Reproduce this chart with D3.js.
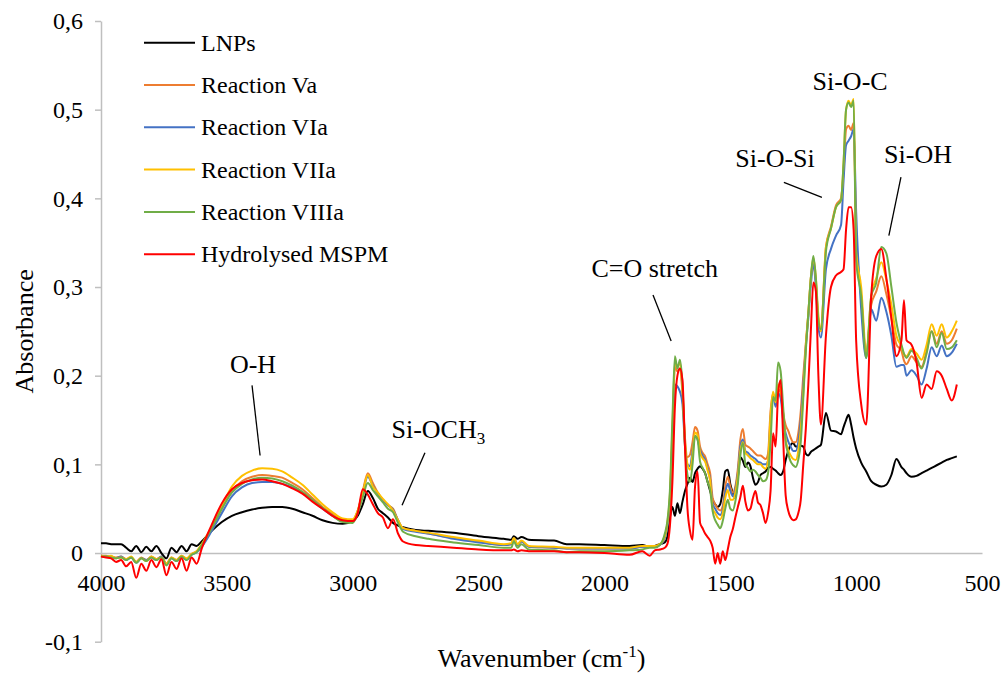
<!DOCTYPE html>
<html>
<head>
<meta charset="utf-8">
<script src="https://cdn.jsdelivr.net/npm/d3@7"></script>
<style>
  body { margin: 0; background: #fff; }
  .axis path, .axis line { stroke: #bfbfbf; stroke-width: 1.5; }
  .pointer { stroke: #000; stroke-width: 1.3; }
  .line { fill: none; stroke-width: 2; stroke-linejoin: round; }
</style>
</head>
<body>
<div id="plot"></div>
<script>
// shared wavenumber grid (cm-1)
const wavenumbers = [
  4000,3980,3960,3940,3920,3900,3880,3860,3840,3820,3800,3780,3760,3740,3720,3700,3680,3660,3640,3620,3600,
  3560,3520,3480,3440,3400,3360,3320,3280,3240,3200,3160,3120,3080,3040,3000,
  2980,2960,2940,2920,2900,2880,2860,2840,2820,2800,
  2750,2700,2600,2500,2400,2370,2360,2345,2330,2300,2200,2150,2100,2000,1900,1850,1820,
  1800,1780,1760,
  1750,1740,1730,1720,1710,1700,1690,1680,1670,1660,
  1650,1640,1630,1620,1610,1600,1590,1580,1570,1560,
  1550,1540,1530,1520,1510,1500,1490,1480,1470,1460,
  1450,1440,1430,1420,1410,1400,1390,1380,1370,1360,
  1350,1340,1330,1320,1310,1300,1290,1280,1270,1260,
  1250,1240,1230,1220,1210,1200,1190,1180,1170,1160,
  1150,1140,
  1120,1100,1080,1060,1050,1040,1030,1020,1010,1000,
  980,960,940,920,900,880,860,840,820,810,
  800,780,760,740,720,700,680,660,640,620,
  600
]

const lnps = [
  0.011,0.011,0.010,0.010,0.010,0.006,0.002,0.008,0.001,0.007,0.002,0.008,0.000,-0.006,0.006,0.001,0.008,0.002,0.010,0.008,0.013,
  0.025,0.035,0.042,0.046,0.049,0.051,0.052,0.052,0.050,0.046,0.042,0.037,0.034,0.033,0.036,
  0.042,0.055,0.070,0.062,0.050,0.045,0.040,0.034,0.031,0.029,
  0.026,0.025,0.023,0.019,0.016,0.015,0.019,0.016,0.018,0.015,0.014,0.010,0.010,0.009,0.008,0.009,0.007,
  0.008,0.010,0.012,
  0.018,0.040,0.052,0.042,0.056,0.045,0.058,0.070,0.078,0.085,
  0.080,0.090,0.095,0.098,0.095,0.090,0.080,0.070,0.060,0.055,
  0.052,0.055,0.070,0.092,0.094,0.078,0.068,0.062,0.085,0.108,
  0.104,0.097,0.102,0.098,0.085,0.077,0.080,0.088,0.090,0.092,
  0.096,0.097,0.095,0.093,0.090,0.088,0.092,0.105,0.115,0.122,
  0.124,0.120,0.120,0.121,0.120,0.112,0.110,0.114,0.116,0.118,
  0.120,0.122,
  0.158,0.138,0.137,0.134,0.142,0.150,0.156,0.145,0.130,0.118,
  0.102,0.092,0.081,0.077,0.075,0.077,0.088,0.106,0.097,0.094,
  0.090,0.086,0.087,0.090,0.093,0.096,0.099,0.102,0.105,0.107,
  0.109
]

const reactionVa = [
  -0.003,-0.003,-0.004,-0.005,-0.004,-0.007,-0.005,-0.010,-0.005,-0.008,-0.004,-0.007,-0.004,-0.012,-0.005,-0.008,-0.003,-0.007,-0.001,0.002,0.009,
  0.029,0.050,0.070,0.081,0.086,0.088,0.087,0.085,0.079,0.072,0.062,0.052,0.044,0.037,0.037,
  0.048,0.070,0.090,0.079,0.068,0.060,0.054,0.050,0.037,0.028,
  0.025,0.022,0.017,0.013,0.009,0.010,0.016,0.009,0.013,0.007,0.006,0.005,0.005,0.005,0.005,0.007,0.007,
  0.007,0.009,0.018,
  0.032,0.060,0.130,0.210,0.205,0.208,0.180,0.130,0.108,0.111,
  0.125,0.142,0.138,0.120,0.113,0.109,0.100,0.090,0.062,0.055,
  0.050,0.048,0.053,0.075,0.086,0.075,0.068,0.075,0.095,0.128,
  0.140,0.122,0.120,0.118,0.115,0.112,0.110,0.110,0.108,0.106,
  0.112,0.160,0.180,0.168,0.185,0.180,0.158,0.144,0.138,0.130,
  0.125,0.125,0.135,0.160,0.200,0.236,0.270,0.310,0.330,0.305,
  0.262,0.250,
  0.345,0.368,0.392,0.400,0.430,0.478,0.482,0.477,0.485,0.360,
  0.290,0.225,0.280,0.295,0.312,0.292,0.265,0.235,0.228,0.217,
  0.213,0.222,0.215,0.210,0.228,0.250,0.236,0.250,0.236,0.240,
  0.253
]

const reactionVIa = [
  -0.003,-0.004,-0.004,-0.006,-0.004,-0.008,-0.005,-0.011,-0.006,-0.008,-0.005,-0.008,-0.004,-0.013,-0.006,-0.009,-0.004,-0.008,-0.002,0.001,0.007,
  0.025,0.045,0.064,0.074,0.079,0.080,0.080,0.078,0.074,0.068,0.059,0.050,0.042,0.036,0.036,
  0.047,0.068,0.086,0.076,0.067,0.060,0.054,0.049,0.037,0.027,
  0.024,0.022,0.016,0.012,0.009,0.010,0.016,0.009,0.013,0.007,0.006,0.005,0.005,0.005,0.005,0.007,0.007,
  0.007,0.009,0.017,
  0.030,0.058,0.120,0.190,0.188,0.182,0.168,0.122,0.100,0.098,
  0.115,0.132,0.128,0.116,0.110,0.105,0.095,0.083,0.055,0.050,
  0.045,0.043,0.049,0.068,0.078,0.070,0.064,0.072,0.090,0.120,
  0.128,0.115,0.113,0.110,0.108,0.106,0.103,0.102,0.100,0.100,
  0.104,0.150,0.178,0.165,0.180,0.175,0.150,0.135,0.126,0.120,
  0.115,0.115,0.125,0.150,0.190,0.232,0.265,0.302,0.326,0.300,
  0.255,0.243,
  0.320,0.343,0.358,0.370,0.420,0.460,0.465,0.470,0.478,0.385,
  0.275,0.220,0.275,0.262,0.288,0.272,0.245,0.210,0.212,0.212,
  0.200,0.206,0.200,0.190,0.208,0.232,0.222,0.234,0.222,0.226,
  0.236
]

const reactionVIIa = [
  -0.003,-0.004,-0.003,-0.006,-0.005,-0.007,-0.004,-0.010,-0.006,-0.009,-0.004,-0.007,-0.005,-0.012,-0.005,-0.008,-0.003,-0.006,-0.001,0.002,0.010,
  0.030,0.053,0.075,0.087,0.093,0.0955,0.095,0.092,0.085,0.077,0.066,0.055,0.046,0.039,0.038,
  0.048,0.068,0.088,0.075,0.068,0.061,0.055,0.048,0.037,0.028,
  0.025,0.023,0.018,0.014,0.010,0.011,0.017,0.010,0.014,0.008,0.007,0.006,0.006,0.006,0.006,0.008,0.008,
  0.008,0.010,0.019,
  0.034,0.065,0.140,0.215,0.210,0.215,0.185,0.125,0.100,0.094,
  0.110,0.136,0.133,0.113,0.107,0.103,0.093,0.081,0.050,0.045,
  0.040,0.038,0.045,0.062,0.071,0.060,0.060,0.068,0.087,0.115,
  0.125,0.113,0.110,0.107,0.105,0.102,0.100,0.100,0.097,0.095,
  0.105,0.155,0.182,0.170,0.190,0.185,0.158,0.128,0.116,0.110,
  0.106,0.105,0.115,0.140,0.180,0.234,0.270,0.310,0.333,0.310,
  0.268,0.250,
  0.345,0.366,0.390,0.398,0.440,0.500,0.510,0.505,0.512,0.340,
  0.300,0.227,0.290,0.310,0.328,0.308,0.280,0.245,0.233,0.224,
  0.222,0.230,0.225,0.218,0.235,0.258,0.245,0.258,0.243,0.250,
  0.262
]

const reactionVIIIa = [
  -0.004,-0.004,-0.005,-0.006,-0.005,-0.008,-0.005,-0.011,-0.006,-0.009,-0.005,-0.008,-0.005,-0.014,-0.006,-0.009,-0.004,-0.008,-0.002,0.001,0.009,
  0.028,0.050,0.068,0.078,0.083,0.085,0.084,0.081,0.076,0.069,0.060,0.051,0.042,0.035,0.034,
  0.045,0.063,0.079,0.071,0.064,0.057,0.050,0.046,0.034,0.024,
  0.019,0.016,0.012,0.009,0.006,0.006,0.013,0.006,0.010,0.004,0.003,0.001,0.002,0.002,0.003,0.004,0.006,
  0.006,0.009,0.022,
  0.036,0.070,0.150,0.222,0.208,0.218,0.190,0.120,0.088,0.080,
  0.100,0.132,0.128,0.103,0.096,0.090,0.080,0.071,0.047,0.037,
  0.032,0.028,0.036,0.050,0.060,0.050,0.048,0.058,0.078,0.110,
  0.124,0.100,0.096,0.092,0.094,0.092,0.088,0.085,0.081,0.082,
  0.090,0.125,0.176,0.172,0.215,0.205,0.165,0.125,0.112,0.103,
  0.099,0.097,0.105,0.125,0.175,0.228,0.270,0.310,0.335,0.310,
  0.262,0.252,
  0.340,0.366,0.390,0.398,0.440,0.500,0.508,0.503,0.510,0.330,
  0.290,0.220,0.290,0.305,0.345,0.338,0.300,0.260,0.235,0.225,
  0.220,0.228,0.220,0.208,0.225,0.250,0.232,0.248,0.230,0.232,
  0.240
]

const hydrolysedMSPM = [
  -0.004,-0.005,-0.006,-0.010,-0.008,-0.015,-0.010,-0.028,-0.012,-0.020,-0.008,-0.016,-0.007,-0.025,-0.010,-0.018,-0.006,-0.020,-0.005,-0.012,0.005,
  0.032,0.056,0.072,0.079,0.082,0.083,0.081,0.078,0.073,0.067,0.058,0.050,0.042,0.037,0.036,
  0.045,0.072,0.066,0.055,0.045,0.040,0.028,0.038,0.022,0.013,
  0.009,0.008,0.006,0.004,0.003,0.003,0.004,0.002,0.003,0.002,0.002,0.001,0.001,0.000,-0.002,0.002,-0.003,
  0.003,0.004,0.006,
  0.010,0.030,0.080,0.165,0.200,0.208,0.195,0.120,0.050,0.025,
  0.015,0.075,0.092,0.034,0.028,0.022,0.018,0.014,0.006,-0.012,
  0.000,-0.012,0.002,-0.008,0.004,0.018,0.027,0.040,0.052,0.063,
  0.076,0.058,0.048,0.050,0.062,0.070,0.057,0.054,0.045,0.034,
  0.045,0.070,0.135,0.120,0.180,0.195,0.130,0.065,0.048,0.040,
  0.037,0.038,0.045,0.060,0.100,0.140,0.190,0.250,0.305,0.295,
  0.200,0.145,
  0.245,0.300,0.313,0.317,0.320,0.365,0.390,0.390,0.365,0.240,
  0.168,0.145,0.290,0.335,0.343,0.310,0.265,0.222,0.240,0.285,
  0.240,0.235,0.215,0.175,0.190,0.185,0.205,0.200,0.185,0.172,
  0.190
]

const seriesNames = ["LNPs", "Reaction Va", "Reaction VIa", "Reaction VIIa", "Reaction VIIIa", "Hydrolysed MSPM"]
const seriesValues = [lnps, reactionVa, reactionVIa, reactionVIIa, reactionVIIIa, hydrolysedMSPM]
const colors = ["#000000", "#ED7D31", "#4472C4", "#FFC000", "#70AD47", "#FF0000"]

const xTicks = [4000, 3500, 3000, 2500, 2000, 1500, 1000, 500]
const yTicks = [-0.1, 0, 0.1, 0.2, 0.3, 0.4, 0.5, 0.6]

// peak labels: text anchor point and pointer line, in wavenumber / absorbance
const notes = [
  {text: "O-H", at: [3396, 0.203], from: [3400, 0.189], to: [3368, 0.110]},
  {text: "Si-OCH", sub: "3", at: [2846, 0.130], anchor: "start", from: [2713, 0.113], to: [2804, 0.054]},
  {text: "C=O stretch", at: [1800, 0.311], from: [1807, 0.291], to: [1735, 0.239]},
  {text: "Si-O-Si", at: [1322, 0.435], from: [1287, 0.418], to: [1136, 0.401]},
  {text: "Si-O-C", at: [1024, 0.522]},
  {text: "Si-OH", at: [754, 0.440], from: [822, 0.424], to: [870, 0.358]}
]

const serif = '"Liberation Serif", Tinos, "Times New Roman", "DejaVu Serif", serif'

const w = 1004,
    h = 679,
    x = d3.scaleLinear()
      .domain([4000, 500])
      .range([101, 982]),
    y = d3.scaleLinear()
      .domain([-0.1, 0.6])
      .range([641.7, 21])

const fmt = (d) => d === 0 ? "0" : d3.format(".1f")(d).replace(".", ",").replace("\u2212", "-")

const svg = d3.select("#plot").append("svg")
  .attr("width", w)
  .attr("height", h)

svg.append("rect")
  .attr("width", w)
  .attr("height", h)
  .attr("fill", "#fff")

svg.append("g")
  .attr("class", "axis")
  .attr("transform", `translate(${x(4000)}, 0)`)
  .call(d3.axisLeft(y)
    .tickValues(yTicks)
    .tickFormat(fmt)
    .tickSize(6)
    .tickSizeOuter(0)
    .tickPadding(12))

svg.append("g")
  .attr("class", "axis")
  .attr("transform", `translate(0, ${y(0)})`)
  .call(d3.axisBottom(x)
    .tickValues(xTicks)
    .tickFormat(d3.format("d"))
    .tickSize(0)
    .tickSizeOuter(0)
    .tickPadding(21))

svg.selectAll(".axis text")
  .style("font-size", "24px")
  .attr("fill", "#000")

const line = d3.line()
  .x((d, i) => x(wavenumbers[i]))
  .y((d) => y(d))
  .curve(d3.curveMonotoneX)

seriesValues.forEach((vals, k) => {
  if (vals.length !== wavenumbers.length) console.error(seriesNames[k], vals.length)
  svg.append("path")
    .datum(vals)
    .attr("class", "line")
    .attr("stroke", colors[k])
    .attr("d", line)
})

// legend
const legend = svg.append("g")
  .attr("transform", "translate(144, 42.7)")

seriesNames.forEach((name, i) => {
  const row = legend.append("g").attr("transform", `translate(0, ${i * 42.3})`)
  row.append("line")
    .attr("x1", 0)
    .attr("x2", 51)
    .attr("stroke", colors[i])
    .attr("stroke-width", 2)
  row.append("text")
    .attr("x", 57)
    .attr("dy", "0.33em")
    .style("font-size", "24px")
    .text(name)
})

// peak annotations
notes.forEach((n) => {
  const t = svg.append("text")
    .attr("x", x(n.at[0]))
    .attr("y", y(n.at[1]))
    .style("font-size", "26px")
    .style("text-anchor", n.anchor || "middle")
    .text(n.text)
  if (n.sub) {
    t.append("tspan")
      .attr("dy", 6)
      .style("font-size", "17px")
      .text(n.sub)
  }
  if (n.from) {
    svg.append("line")
      .attr("class", "pointer")
      .attr("x1", x(n.from[0]))
      .attr("y1", y(n.from[1]))
      .attr("x2", x(n.to[0]))
      .attr("y2", y(n.to[1]))
  }
})

// axis titles
svg.append("text")
  .attr("transform", "rotate(-90)")
  .attr("x", -(y(0.6) + y(-0.1)) / 2)
  .attr("y", 33)
  .style("font-size", "26px")
  .style("text-anchor", "middle")
  .text("Absorbance")

const xt = svg.append("text")
  .attr("x", (x(4000) + x(500)) / 2)
  .attr("y", 667)
  .style("font-size", "26px")
  .style("text-anchor", "middle")
xt.append("tspan").text("Wavenumber (cm")
xt.append("tspan").attr("dy", -10).style("font-size", "17px").text("-1")
xt.append("tspan").attr("dy", 10).text(")")

svg.selectAll("text").style("font-family", serif)
</script>
</body>
</html>
